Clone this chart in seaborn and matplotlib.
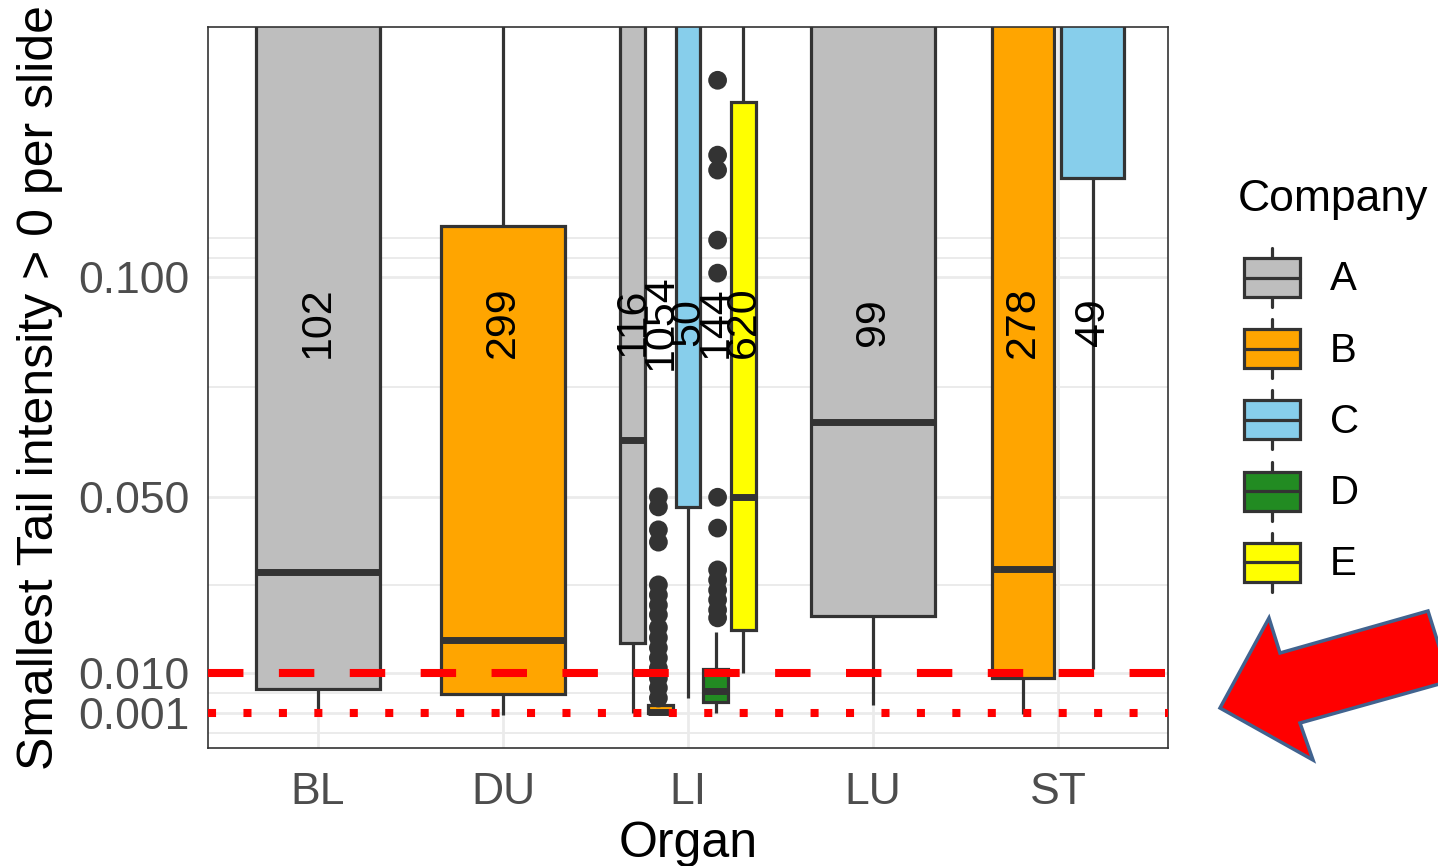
import numpy as np
import pandas as pd
import matplotlib
matplotlib.use("Agg")
import matplotlib.pyplot as plt
import seaborn as sns
from matplotlib.patches import Patch, Rectangle, Polygon
from matplotlib.lines import Line2D
from matplotlib.legend_handler import HandlerBase

# one row per box: organ, company, five-number summary, n
organs = ["BL", "DU", "LI", "LU", "ST"]
companies = ["A", "B", "C", "D", "E"]
colors = ["#BEBEBE", "#FFA500", "#87CEEB", "#228B22", "#FFFF00"]

box_organ = ["BL", "DU", "LI", "LI", "LI", "LI", "LI", "LU", "ST", "ST"]
box_company = ["A", "B", "A", "B", "C", "D", "E", "A", "B", "C"]
box_lo = [0.0008, 0.0005, 0.0010, 0.0007, 0.0044, 0.0010, 0.0101, 0.0028, 0.0008, 0.0110]
box_q1 = [0.0064, 0.0053, 0.0170, 0.0009, 0.0478, 0.0035, 0.0199, 0.0230, 0.0090, 0.1225]
box_med = [0.0330, 0.0176, 0.0630, 0.0012, 0.1800, 0.0061, 0.0500, 0.0671, 0.0337, 0.1800]
box_q3 = [0.2000, 0.1116, 0.2000, 0.0028, 0.2500, 0.0110, 0.1397, 0.2000, 0.2000, 0.2500]
box_hi = [0.3000, 0.3000, 0.3000, 0.0040, 0.3000, 0.0194, 0.3000, 0.3000, 0.3000, 0.3000]
box_n = [102, 299, 116, 1054, 50, 144, 620, 99, 278, 49]

# outliers (LI only)
li_b_outliers = [0.0501, 0.0478, 0.0426, 0.0398, 0.0301, 0.0278, 0.0255, 0.0233,
                 0.0204, 0.0181, 0.0158, 0.0135, 0.0112, 0.0089, 0.0067, 0.0044]
li_d_outliers = [0.1447, 0.1277, 0.1243, 0.1084, 0.1009, 0.0500, 0.0430, 0.0335,
                 0.0312, 0.0289, 0.0267, 0.0244, 0.0226]

y_ticks = [0.001, 0.010, 0.050, 0.100]
y_minor = [-0.0035, 0.0055, 0.030, 0.075, 0.1043, 0.1089]

palette = dict(zip(companies, colors))
boxes = pd.DataFrame({"organ": box_organ, "company": box_company, "lo": box_lo,
                      "q1": box_q1, "med": box_med, "q3": box_q3, "hi": box_hi,
                      "n": box_n})
df = boxes.drop(columns="n").melt(id_vars=["organ", "company"], value_name="value")
out_df = pd.DataFrame({"organ": "LI",
                       "company": ["B"] * len(li_b_outliers) + ["D"] * len(li_d_outliers),
                       "value": li_b_outliers + li_d_outliers})

sns.set_theme(style="white", rc={"text.color": "black", "axes.labelcolor": "black"})
plt.rcParams["font.family"] = ["Liberation Sans", "DejaVu Sans"]

edge = "#333333"
fig = plt.figure(figsize=(14.38, 8.66), dpi=100)
ax = fig.add_axes([208 / 1438, 1 - 748 / 866, 960 / 1438, 721 / 866])

for organ in organs:
    sub = df[df["organ"] == organ]
    present = [c for c in companies if c in sub["company"].values]
    sns.boxplot(data=sub, x="organ", y="value", hue="company", order=organs,
                hue_order=present, palette=palette, width=0.75, gap=0.1,
                whis=(0, 100), showfliers=False, saturation=1, linewidth=2.3,
                linecolor=edge, dodge=True, legend=False, ax=ax,
                medianprops=dict(color=edge, linewidth=5),
                capprops=dict(visible=False))
    # n labels
    k = len(present)
    for j, comp in enumerate(present):
        xpos = organs.index(organ) + (j - (k - 1) / 2) * 0.75 / k
        n = boxes.loc[(boxes["organ"] == organ) & (boxes["company"] == comp), "n"].iloc[0]
        ax.text(xpos, 0.0898, str(n), rotation=90, ha="center", va="center",
                fontsize=31, color="black", zorder=6)

li_present = [c for c in companies if c in df[df["organ"] == "LI"]["company"].values]
sns.stripplot(data=out_df, x="organ", y="value", hue="company", order=organs,
              hue_order=li_present, palette={c: edge for c in companies},
              dodge=True, jitter=False, size=13.5, linewidth=0, legend=False, ax=ax,
              zorder=4)

ax.axhline(0.010, color="red", lw=5.8, linestyle=(0, (4.4, 4.4)), zorder=5)
ax.axhline(0.001, color="red", lw=5.8, linestyle=(0, (1, 3.4)), zorder=5)

ax.set_xlim(-0.595, 4.595)
ax.set_ylim(-0.00695, 0.1568)
ax.set_yticks(y_ticks)
ax.set_yticklabels([f"{v:.3f}" for v in y_ticks])
ax.set_yticks(y_minor, minor=True)
ax.grid(True, which="major", color="#EBEBEB", lw=2)
ax.grid(True, which="minor", axis="y", color="#EBEBEB", lw=1.4)
ax.set_axisbelow(True)
ax.tick_params(axis="both", which="major", length=7, width=1.5, color=edge,
               labelsize=32, labelcolor="#4D4D4D", pad=6)
ax.tick_params(axis="x", which="major", pad=10)
ax.tick_params(axis="y", which="minor", length=0)
for s in ax.spines.values():
    s.set_visible(True)
    s.set_color(edge)
    s.set_linewidth(1.2)
ax.set_xlabel("Organ", fontsize=36, labelpad=6, color="black")
ax.set_ylabel("Smallest Tail intensity > 0 per slide", fontsize=36, labelpad=11,
              color="black")


class BoxHandler(HandlerBase):
    def create_artists(self, legend, orig_handle, xdescent, ydescent, width, height,
                       fontsize, trans):
        x0, y0 = -xdescent, -ydescent
        cx = x0 + width / 2
        lw = 2.3
        b0, b1 = y0 + height * 0.17, y0 + height * 0.83
        w1 = Line2D([cx, cx], [y0, b0], color=edge, lw=lw, transform=trans)
        w2 = Line2D([cx, cx], [b1, y0 + height], color=edge, lw=lw, transform=trans)
        box = Rectangle((x0, b0), width, b1 - b0,
                        facecolor=orig_handle.get_facecolor(), edgecolor=edge, lw=lw,
                        transform=trans)
        med = Line2D([x0, x0 + width], [y0 + height / 2] * 2, color=edge, lw=lw,
                     transform=trans)
        return [w1, w2, box, med]


# legend title as its own text, keys placed below it
fig.text(1238 / 1438, 1 - 200 / 866, "Company", ha="left", va="center",
         fontsize=32, color="black")
handles = [Patch(facecolor=c) for c in colors]
leg = fig.legend(handles, companies, handler_map={Patch: BoxHandler()},
                 loc="upper left", bbox_to_anchor=(1244 / 1438, 1 - 248 / 866),
                 frameon=False, fontsize=29, labelcolor="black",
                 handlelength=1.39, handleheight=1.88, labelspacing=0.30,
                 handletextpad=0.75, borderpad=0, borderaxespad=0)

# red arrow annotation
arrow_px = [(1220, 708), (1269, 618), (1280, 653), (1428, 611), (1450, 681),
            (1300, 723), (1313, 760)]
arrow = Polygon([(x / 1438, 1 - y / 866) for x, y in arrow_px], closed=True,
                facecolor="red", edgecolor="#41638F", lw=2.5,
                transform=fig.transFigure)
fig.add_artist(arrow)

fig.savefig("out.png", dpi=100)
